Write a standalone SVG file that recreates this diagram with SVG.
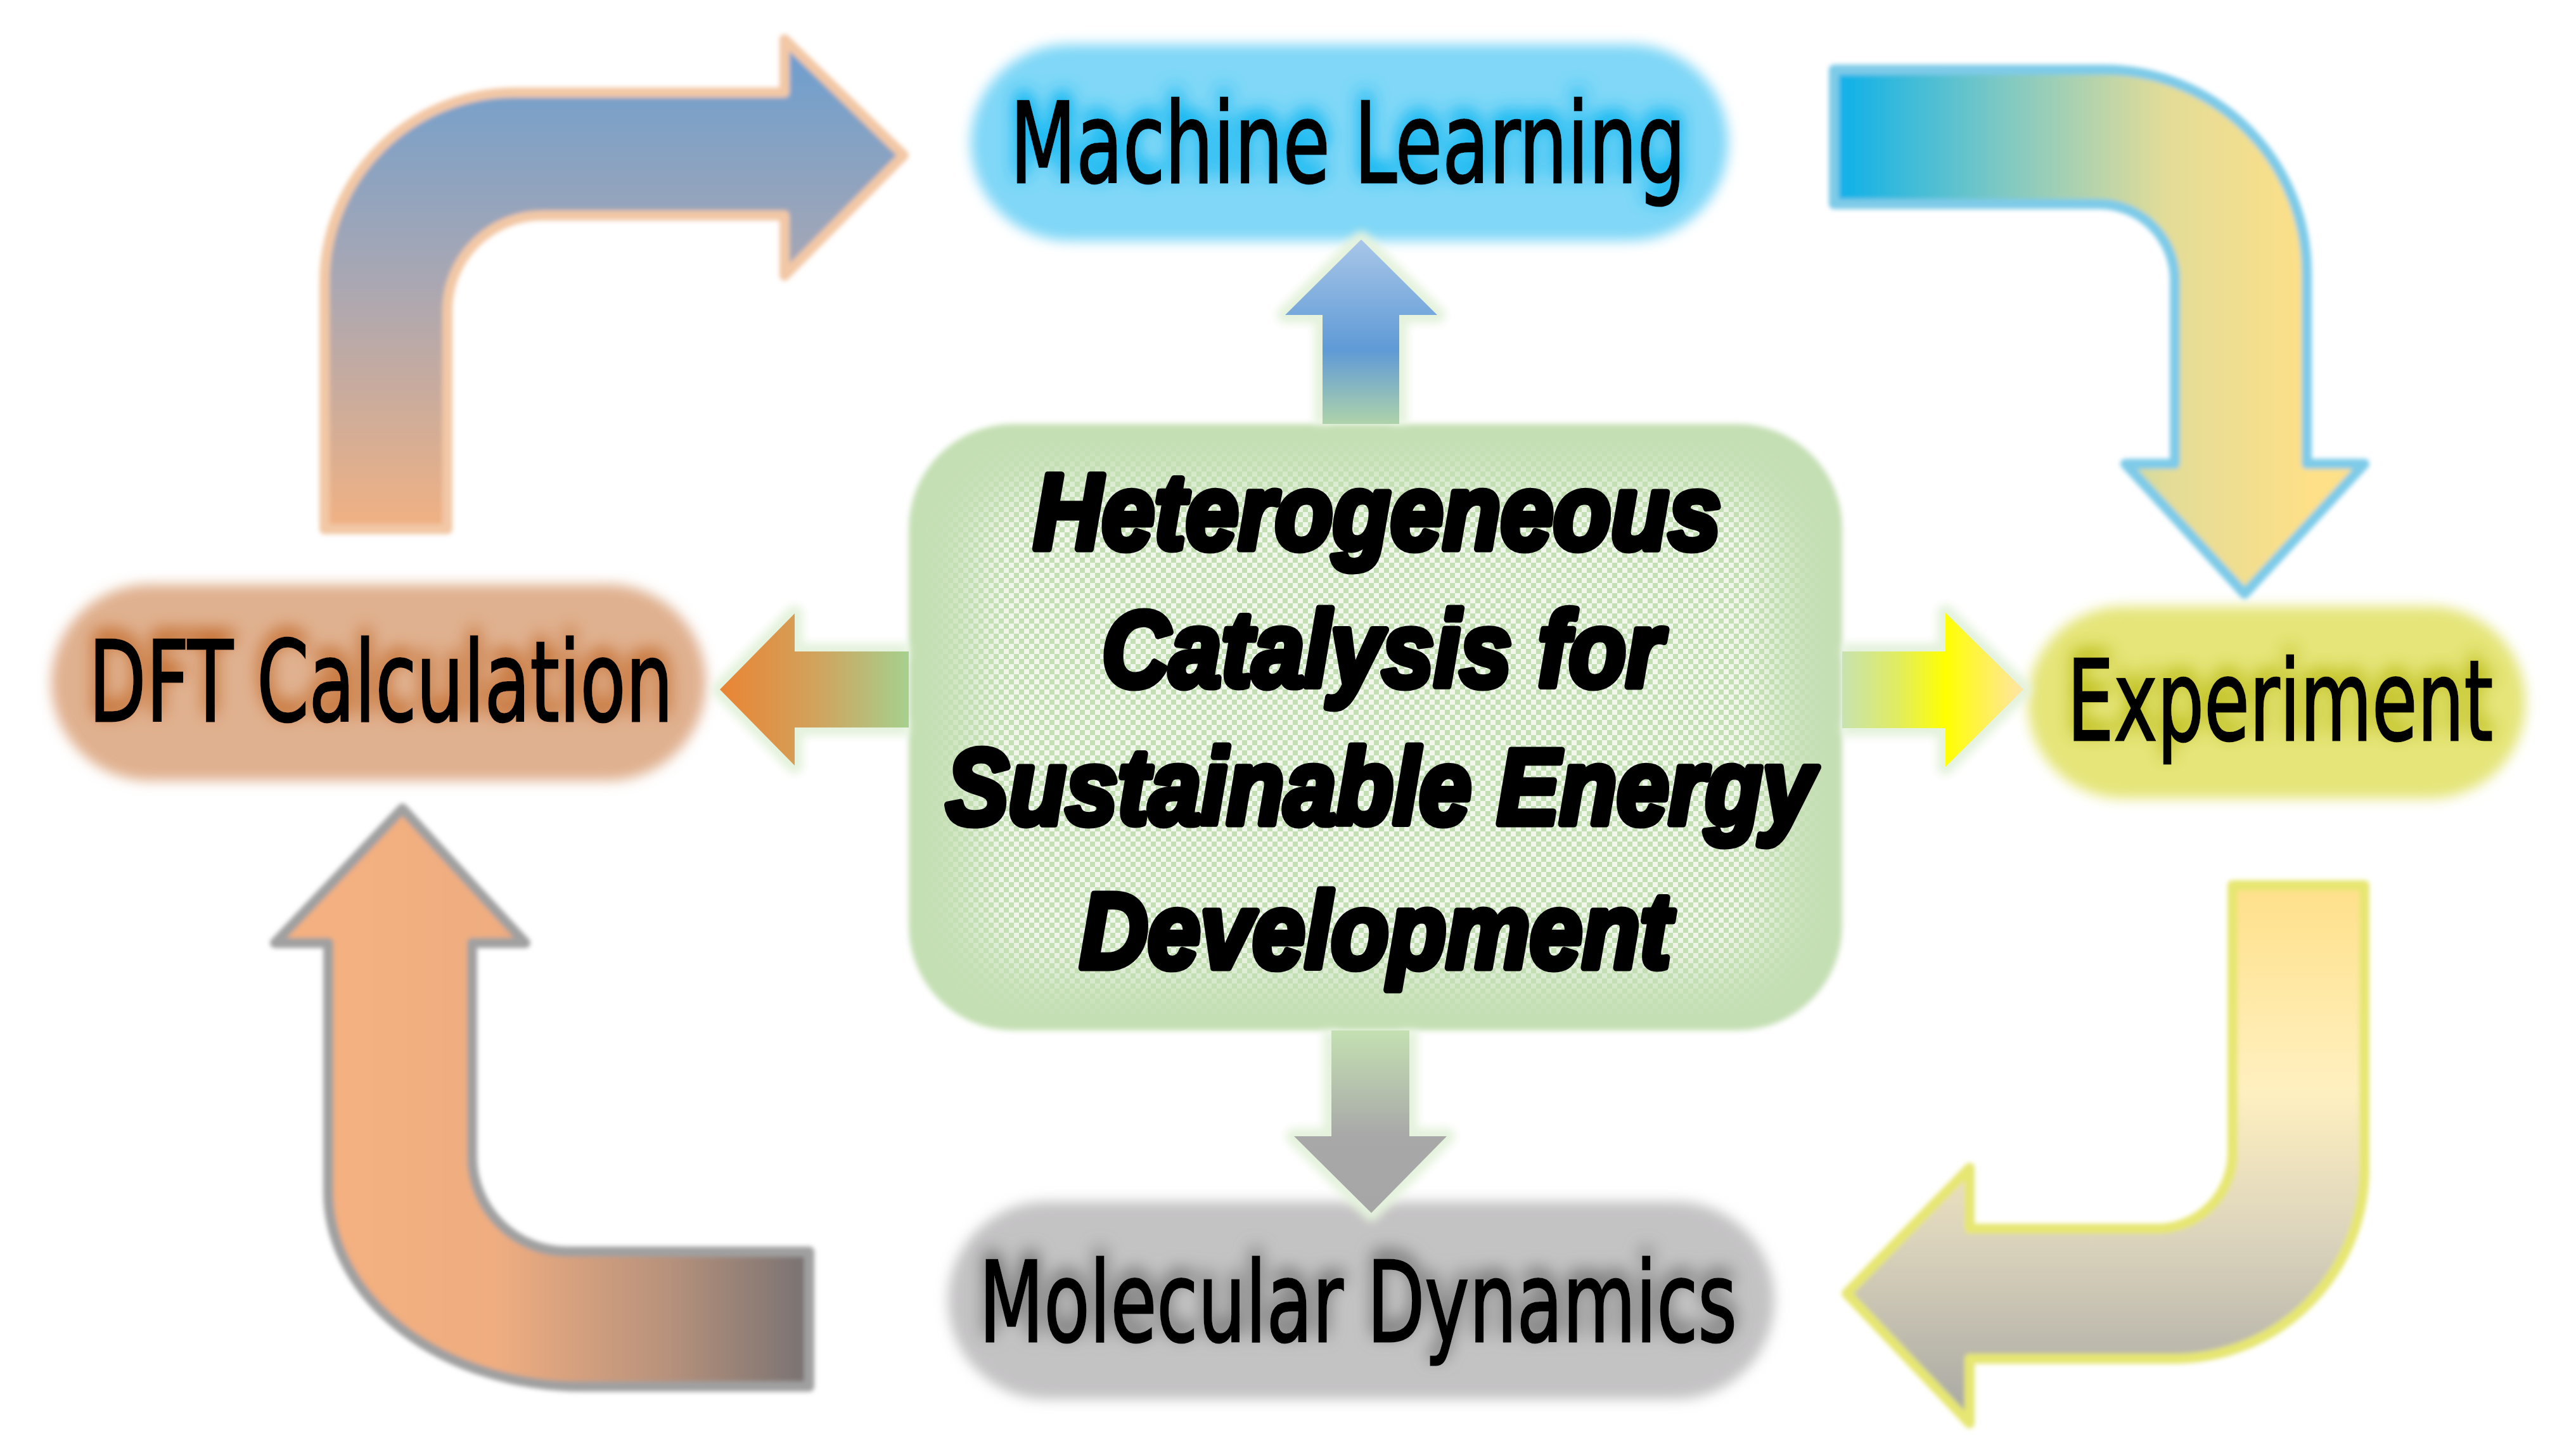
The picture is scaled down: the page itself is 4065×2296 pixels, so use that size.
<svg xmlns="http://www.w3.org/2000/svg" width="4065" height="2296" viewBox="0 0 4065 2296">
<defs>
  <style>
    .lbl{font-family:"DejaVu Sans Condensed","DejaVu Sans","Liberation Sans",sans-serif;font-size:176px;fill:#000;stroke:#000;stroke-width:3;text-anchor:middle}
    .ttl{font-family:"Liberation Sans","Arial",sans-serif;font-size:168px;font-weight:bold;font-style:italic;fill:#000;stroke:#000;stroke-width:11;stroke-linejoin:round}
    .big{stroke-width:16;stroke-linejoin:round}
    .glowline{fill:none;stroke:#e4f2dc;stroke-width:26;stroke-linejoin:round}
  </style>
  <filter id="soft" x="-10%" y="-10%" width="120%" height="120%"><feGaussianBlur stdDeviation="3.5"/></filter>
  <filter id="pillblur" x="-10%" y="-20%" width="120%" height="140%"><feGaussianBlur stdDeviation="10"/></filter>
  <filter id="gblur" x="-20%" y="-20%" width="140%" height="140%"><feGaussianBlur stdDeviation="7"/></filter>
  <filter id="mblur" x="-20%" y="-20%" width="140%" height="140%"><feGaussianBlur stdDeviation="40"/></filter>
  <filter id="boxblur" x="-5%" y="-5%" width="110%" height="110%"><feGaussianBlur stdDeviation="4"/></filter>

  <filter id="shML" x="-12%" y="-50%" width="124%" height="200%">
    <feGaussianBlur in="SourceAlpha" stdDeviation="14"/>
    <feOffset dy="-12"/>
    <feComponentTransfer result="b"><feFuncA type="linear" slope="1.8"/></feComponentTransfer>
    <feFlood flood-color="#22bcf2"/>
    <feComposite in2="b" operator="in"/>
    <feMerge><feMergeNode/><feMergeNode in="SourceGraphic"/></feMerge>
  </filter>
  <filter id="shDFT" x="-12%" y="-50%" width="124%" height="200%">
    <feGaussianBlur in="SourceAlpha" stdDeviation="14"/>
    <feOffset dy="-12"/>
    <feComponentTransfer result="b"><feFuncA type="linear" slope="1.6"/></feComponentTransfer>
    <feFlood flood-color="#c8783e"/>
    <feComposite in2="b" operator="in"/>
    <feMerge><feMergeNode/><feMergeNode in="SourceGraphic"/></feMerge>
  </filter>
  <filter id="shEXP" x="-12%" y="-50%" width="124%" height="200%">
    <feGaussianBlur in="SourceAlpha" stdDeviation="14"/>
    <feOffset dy="-12"/>
    <feComponentTransfer result="b"><feFuncA type="linear" slope="1.6"/></feComponentTransfer>
    <feFlood flood-color="#c4c42a"/>
    <feComposite in2="b" operator="in"/>
    <feMerge><feMergeNode/><feMergeNode in="SourceGraphic"/></feMerge>
  </filter>
  <filter id="shMD" x="-12%" y="-50%" width="124%" height="200%">
    <feGaussianBlur in="SourceAlpha" stdDeviation="14"/>
    <feOffset dy="-12"/>
    <feComponentTransfer result="b"><feFuncA type="linear" slope="1.5"/></feComponentTransfer>
    <feFlood flood-color="#7e7e7e"/>
    <feComposite in2="b" operator="in"/>
    <feMerge><feMergeNode/><feMergeNode in="SourceGraphic"/></feMerge>
  </filter>

  <linearGradient id="gTL" gradientUnits="userSpaceOnUse" x1="0" y1="62" x2="0" y2="835">
    <stop offset="0" stop-color="#6a9ed0"/>
    <stop offset="0.5" stop-color="#aaa7b2"/>
    <stop offset="1" stop-color="#f1b182"/>
  </linearGradient>
  <linearGradient id="gTR" gradientUnits="userSpaceOnUse" x1="2894" y1="0" x2="3640" y2="0">
    <stop offset="0" stop-color="#0bb0ea"/>
    <stop offset="0.35" stop-color="#7cc8c4"/>
    <stop offset="0.7" stop-color="#e2dc98"/>
    <stop offset="1" stop-color="#fde088"/>
  </linearGradient>
  <linearGradient id="gBR" gradientUnits="userSpaceOnUse" x1="0" y1="1397" x2="0" y2="2246">
    <stop offset="0" stop-color="#ffe08a"/>
    <stop offset="0.38" stop-color="#fff0c0"/>
    <stop offset="0.65" stop-color="#dcd4bc"/>
    <stop offset="1" stop-color="#a6a6a2"/>
  </linearGradient>
  <linearGradient id="gBL" gradientUnits="userSpaceOnUse" x1="518" y1="0" x2="1277" y2="0">
    <stop offset="0" stop-color="#f4b080"/>
    <stop offset="0.35" stop-color="#efad80"/>
    <stop offset="0.7" stop-color="#b8927c"/>
    <stop offset="1" stop-color="#787272"/>
  </linearGradient>

  <linearGradient id="gUp" gradientUnits="userSpaceOnUse" x1="0" y1="378" x2="0" y2="669">
    <stop offset="0" stop-color="#a8c6e8"/>
    <stop offset="0.6" stop-color="#5f9ad6"/>
    <stop offset="1" stop-color="#aed3aa"/>
  </linearGradient>
  <linearGradient id="gLeft" gradientUnits="userSpaceOnUse" x1="1136" y1="0" x2="1434" y2="0">
    <stop offset="0" stop-color="#ea8434"/>
    <stop offset="0.5" stop-color="#d2a25c"/>
    <stop offset="1" stop-color="#a6d08e"/>
  </linearGradient>
  <linearGradient id="gRight" gradientUnits="userSpaceOnUse" x1="2907" y1="0" x2="3193" y2="0">
    <stop offset="0" stop-color="#c8e2b0"/>
    <stop offset="0.3" stop-color="#e0ec62"/>
    <stop offset="0.57" stop-color="#ffff00"/>
    <stop offset="1" stop-color="#ffe4a8"/>
  </linearGradient>
  <linearGradient id="gDown" gradientUnits="userSpaceOnUse" x1="0" y1="1626" x2="0" y2="1914">
    <stop offset="0" stop-color="#c4e0b2"/>
    <stop offset="0.58" stop-color="#a8a8a8"/>
    <stop offset="1" stop-color="#a6a6a6"/>
  </linearGradient>

  <pattern id="chk" width="16" height="16" patternUnits="userSpaceOnUse">
    <rect width="8" height="8" fill="#f0f7ec"/>
    <rect x="8" y="8" width="8" height="8" fill="#f0f7ec"/>
  </pattern>
  <mask id="chkMask" maskUnits="userSpaceOnUse" x="1400" y="640" width="1540" height="1020">
    <rect x="1530" y="760" width="1280" height="780" rx="120" fill="#fff" filter="url(#mblur)"/>
  </mask>
</defs>

<rect width="4065" height="2296" fill="#ffffff"/>

<g id="center-box">
  <rect x="1434" y="669" width="1473" height="957" rx="165" fill="#c5dfb4" filter="url(#boxblur)"/>
  <rect x="1460" y="695" width="1420" height="905" rx="150" fill="url(#chk)" mask="url(#chkMask)"/>
  <text class="ttl" x="1631" y="866" textLength="1085" lengthAdjust="spacingAndGlyphs">Heterogeneous</text>
  <text class="ttl" x="1739" y="1083" textLength="884" lengthAdjust="spacingAndGlyphs">Catalysis for</text>
  <text class="ttl" x="1493" y="1300" textLength="1370" lengthAdjust="spacingAndGlyphs">Sustainable Energy</text>
  <text class="ttl" x="1704" y="1527" textLength="933" lengthAdjust="spacingAndGlyphs">Development</text>
</g>

<g id="node-ml">
  <rect x="1532" y="70" width="1195" height="310" rx="155" fill="#80d7f7" filter="url(#pillblur)"/>
  <text class="lbl" x="2127" y="288" textLength="1066" lengthAdjust="spacingAndGlyphs" filter="url(#shML)">Machine Learning</text>
</g>

<g id="node-dft">
  <rect x="81" y="922" width="1033" height="310" rx="155" fill="#e0b190" filter="url(#pillblur)"/>
  <text class="lbl" x="601" y="1138" textLength="922" lengthAdjust="spacingAndGlyphs" filter="url(#shDFT)">DFT Calculation</text>
</g>

<g id="node-exp">
  <rect x="3200" y="957" width="785" height="303" rx="150" fill="#e5e57a" filter="url(#pillblur)"/>
  <text class="lbl" x="3598" y="1168" textLength="672" lengthAdjust="spacingAndGlyphs" filter="url(#shEXP)">Experiment</text>
</g>

<g id="node-md">
  <rect x="1496" y="1896" width="1304" height="312" rx="156" fill="#c4c3c4" filter="url(#pillblur)"/>
  <text class="lbl" x="2143" y="2117" textLength="1196" lengthAdjust="spacingAndGlyphs" filter="url(#shMD)">Molecular Dynamics</text>
</g>

<g id="connectors">
  <path class="big" filter="url(#soft)" fill="url(#gTL)" stroke="#f2c8a6"
        d="M512,835 L512,446 A300,300 0 0 1 812,146 L1238,146 L1238,62 L1426,245 L1238,435 L1238,340 L856,340 A150,150 0 0 0 706,490 L706,835 Z"/>
  <path class="big" filter="url(#soft)" fill="url(#gTR)" stroke="#7ecbe8"
        d="M2894,110 L3320,110 A320,320 0 0 1 3640,430 L3640,732 L3731,732 L3542,937 L3354,732 L3432,732 L3432,442 A120,120 0 0 0 3312,322 L2894,322 Z"/>
  <path class="big" filter="url(#soft)" fill="url(#gBR)" stroke="#e6e672"
        d="M3523,1397 L3731,1397 L3731,1844 A300,300 0 0 1 3431,2144 L3108,2144 L3108,2246 L2914,2041 L3108,1843 L3108,1939 L3403,1939 A120,120 0 0 0 3523,1819 Z"/>
  <path class="big" filter="url(#soft)" fill="url(#gBL)" stroke="#a0a0a0"
        d="M1277,1975 L895,1975 A150,150 0 0 1 745,1825 L745,1488 L829,1488 L635,1276 L434,1488 L518,1488 L518,1880 A400,308 0 0 0 918,2188 L1277,2188 Z"/>

  <path class="glowline" filter="url(#gblur)" d="M2087,669 L2087,497 L2028,497 L2148,378 L2268,497 L2208,497 L2208,669"/>
  <path fill="url(#gUp)" d="M2087,669 L2087,497 L2028,497 L2148,378 L2268,497 L2208,497 L2208,669 Z"/>

  <path class="glowline" filter="url(#gblur)" d="M1434,1028 L1254,1028 L1254,968 L1136,1088 L1254,1208 L1254,1148 L1434,1148"/>
  <path fill="url(#gLeft)" d="M1434,1028 L1254,1028 L1254,968 L1136,1088 L1254,1208 L1254,1148 L1434,1148 Z"/>

  <path class="glowline" filter="url(#gblur)" d="M2907,1028 L3070,1028 L3070,967 L3193,1088 L3070,1210 L3070,1149 L2907,1149"/>
  <path fill="url(#gRight)" d="M2907,1028 L3070,1028 L3070,967 L3193,1088 L3070,1210 L3070,1149 L2907,1149 Z"/>

  <path class="glowline" filter="url(#gblur)" d="M2101,1626 L2101,1793 L2042,1793 L2164,1914 L2283,1793 L2224,1793 L2224,1626"/>
  <path fill="url(#gDown)" d="M2101,1626 L2101,1793 L2042,1793 L2164,1914 L2283,1793 L2224,1793 L2224,1626 Z"/>
</g>
</svg>
